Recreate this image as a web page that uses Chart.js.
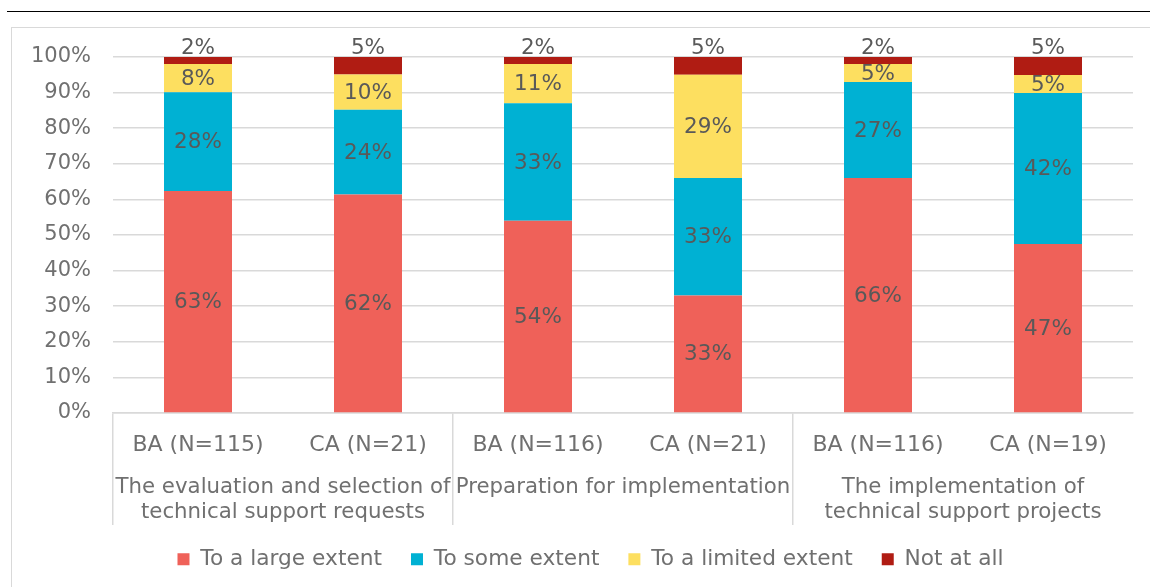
<!DOCTYPE html>
<html>
<head>
<meta charset="utf-8">
<title>Technical support: extent of satisfaction</title>
<script src="https://cdn.jsdelivr.net/npm/chart.js@4/dist/chart.umd.min.js"></script>
<style>
  html, body { margin: 0; padding: 0; background: #ffffff; overflow: hidden; }
  #page { position: relative; width: 1150px; height: 587px; }
  #rule { position: absolute; left: 7px; top: 11px; width: 1143px; height: 1px; background: #000000; }
  #frame { position: absolute; left: 11px; top: 27px; width: 1200px; height: 600px;
           border-left: 1.5px solid #d9d9d9; border-top: 1.5px solid #d9d9d9; }
  #chart { position: absolute; left: 0; top: 0; }
</style>
</head>
<body>
<div id="page">
  <div id="rule"></div>
  <div id="frame"></div>
  <canvas id="chart" width="1150" height="580"></canvas>
</div>
<script>
// Respondent groups along the x axis
const categories = ['BA (N=115)', 'CA (N=21)', 'BA (N=116)', 'CA (N=21)', 'BA (N=116)', 'CA (N=19)'];
// Stages, each covering two neighbouring respondent groups
const stages = [
  ['The evaluation and selection of', 'technical support requests'],
  ['Preparation for implementation'],
  ['The implementation of', 'technical support projects']
];
// Shares of answers (%), as reported
const largeExtent   = [63, 62, 54, 33, 66, 47];
const someExtent    = [28, 24, 33, 33, 27, 42];
const limitedExtent = [8, 10, 11, 29, 5, 5];
const notAtAll      = [2, 5, 2, 5, 2, 5];
const seriesNames = ['To a large extent', 'To some extent', 'To a limited extent', 'Not at all'];
const seriesColors = ['#ef6159', '#00b1d3', '#fddf60', '#b01c13'];
const percentTicks = [0, 10, 20, 30, 40, 50, 60, 70, 80, 90, 100];

const allSeries = [largeExtent, someExtent, limitedExtent, notAtAll];
// 100% stacked: each column is scaled by its own total
const totals = categories.map((_, i) => allSeries.reduce((s, arr) => s + arr[i], 0));
const asShare = arr => arr.map((v, i) => v / totals[i] * 100);

const FONT = '"DejaVu Sans", Verdana, sans-serif';
const AXIS_TEXT = '#707070';
const LABEL_TEXT = '#595959';
const GRID = '#d9d9d9';

Chart.defaults.font.family = FONT;
Chart.defaults.font.size = 22;
Chart.defaults.color = AXIS_TEXT;

// Writes each segment's value inside it; the last series sits above its column
const segmentLabels = {
  id: 'segmentLabels',
  afterDatasetsDraw(chart) {
    const ctx = chart.ctx;
    ctx.save();
    ctx.font = '21.5px ' + FONT;
    ctx.fillStyle = LABEL_TEXT;
    ctx.textAlign = 'center';
    chart.data.datasets.forEach((ds, di) => {
      const meta = chart.getDatasetMeta(di);
      meta.data.forEach((bar, i) => {
        const p = bar.getProps(['x', 'y', 'base'], true);
        const text = ds.shown[i] + '%';
        if (ds.labelAbove) {
          ctx.textBaseline = 'alphabetic';
          ctx.fillText(text, p.x, p.y - 3);
        } else {
          ctx.textBaseline = 'middle';
          ctx.fillText(text, p.x, (p.y + p.base) / 2 + 1);
        }
      });
    });
    ctx.restore();
  }
};

// Stage names, centred under each pair of columns
const stageLabels = {
  id: 'stageLabels',
  afterDraw(chart) {
    const x = chart.scales.x;
    const ctx = chart.ctx;
    ctx.save();
    ctx.font = '21.3px ' + FONT;
    ctx.fillStyle = AXIS_TEXT;
    ctx.textAlign = 'center';
    ctx.textBaseline = 'middle';
    stages.forEach((lines, g) => {
      const cx = (x.getPixelForValue(2 * g) + x.getPixelForValue(2 * g + 1)) / 2;
      lines.forEach((line, k) => ctx.fillText(line, cx, x.top + 74 + k * 25));
    });
    ctx.restore();
  }
};

new Chart(document.getElementById('chart'), {
  type: 'bar',
  data: {
    labels: categories,
    datasets: allSeries.map((arr, k) => ({
      label: seriesNames[k],
      data: asShare(arr),
      shown: arr,
      labelAbove: k === allSeries.length - 1,
      backgroundColor: seriesColors[k],
      borderWidth: 0,
      categoryPercentage: 1,
      barPercentage: 0.4
    }))
  },
  options: {
    responsive: false,
    animation: false,
    devicePixelRatio: 1,
    layout: { padding: { top: 57, left: 31, right: 0, bottom: 0 } },
    plugins: {
      tooltip: { enabled: false },
      legend: {
        position: 'bottom',
        labels: {
          boxWidth: 12,
          boxHeight: 12,
          padding: 29,
          color: AXIS_TEXT,
          font: { size: 21.7 }
        }
      }
    },
    scales: {
      x: {
        stacked: true,
        offset: true,
        grid: {
          offset: true,
          drawOnChartArea: false,
          tickLength: 112,
          lineWidth: 1.5,
          color: c => (c.index % 2 === 0 ? GRID : 'rgba(0,0,0,0)')
        },
        border: { display: true, color: GRID, width: 1.5 },
        ticks: { color: AXIS_TEXT, padding: -93, maxRotation: 0, autoSkip: false },
        afterFit: s => { s.height = 106.3; }
      },
      y: {
        stacked: true,
        min: 0,
        max: 100,
        afterBuildTicks: s => { s.ticks = percentTicks.map(v => ({ value: v })); },
        grid: { color: GRID, lineWidth: 1.5, drawTicks: false },
        border: { display: false },
        ticks: { color: AXIS_TEXT, padding: 22, font: { size: 21 }, callback: v => v + '%' },
        afterFit: s => { s.width = 82; }
      },
      // empty strip on the right so the plot ends short of the frame
      gutter: {
        type: 'linear',
        position: 'right',
        grid: { display: false },
        border: { display: false },
        ticks: { display: false },
        afterFit: s => { s.width = 17; }
      }
    }
  },
  plugins: [segmentLabels, stageLabels]
});
</script>
</body>
</html>
